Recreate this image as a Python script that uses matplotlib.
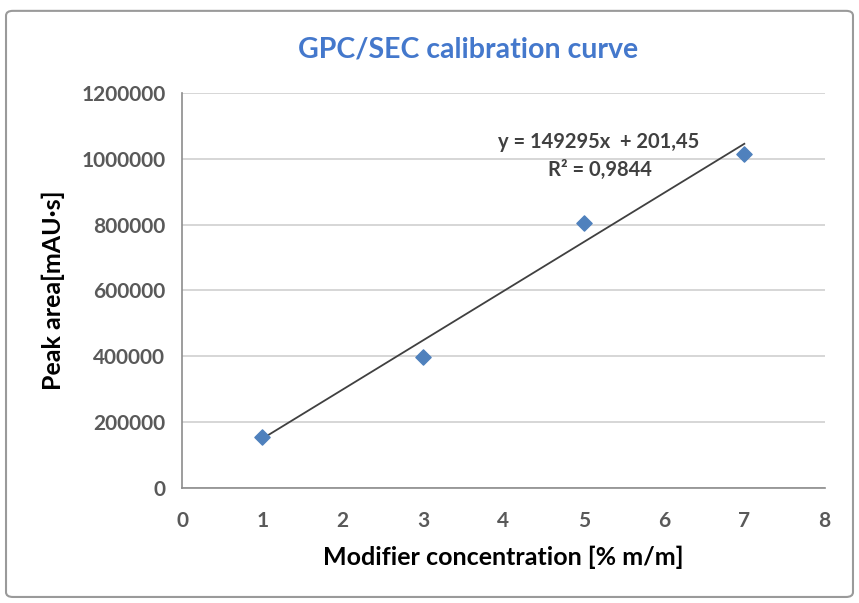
import matplotlib.pyplot as plt
from matplotlib.patches import FancyBboxPatch

# calibration data
conc = [1, 3, 5, 7]
area = [155000, 398000, 805000, 1015000]
slope = 149295
intercept = 201.45
r2 = 0.9844
x_ticks = [0, 1, 2, 3, 4, 5, 6, 7, 8]
y_ticks = [0, 200000, 400000, 600000, 800000, 1000000, 1200000]

plt.rcParams['font.family'] = ['Lato', 'DejaVu Sans']

fig = plt.figure(figsize=(8.59, 6.03), dpi=100)
border = FancyBboxPatch((0.007, 0.01), 0.986, 0.972, boxstyle="round,pad=0,rounding_size=0.008",
                        transform=fig.transFigure, facecolor='white', edgecolor='#9a9a9a',
                        linewidth=1.5, zorder=-1)
fig.patches.append(border)
ax = fig.add_axes([0.212, 0.191, 0.748, 0.655])
ax.patch.set_alpha(0)

ax.scatter(conc, area, marker='D', s=60, color='#4F81BD', zorder=3)
fit_x = [conc[0], conc[-1]]
fit_y = [slope * x + intercept for x in fit_x]
ax.plot(fit_x, fit_y, color='#404040', linewidth=1.3, zorder=2)

ax.set_xlim(0, 8)
ax.set_ylim(0, 1200000)
ax.set_xticks(x_ticks)
ax.set_yticks(y_ticks)
ax.set_xticklabels([str(t) for t in x_ticks], fontsize=15, fontweight='bold', color='#595959')
ax.set_yticklabels([str(t) for t in y_ticks], fontsize=15, fontweight='bold', color='#595959')
ax.tick_params(axis='y', length=0, pad=12)
ax.tick_params(axis='x', length=0, pad=17)
ax.grid(axis='y', color='#d0d0d0', linewidth=1.2)
ax.set_axisbelow(True)
for s in ['top', 'right']:
    ax.spines[s].set_visible(False)
for s in ['left', 'bottom']:
    ax.spines[s].set_color('#8c8c8c')
    ax.spines[s].set_linewidth(1.2)

ax.set_xlabel('Modifier concentration [% m/m]', fontsize=18, fontweight='bold', labelpad=10)
ax.set_ylabel('Peak area[mAU·s]', fontsize=18, fontweight='bold', labelpad=12)
fig.text(0.545, 0.918, 'GPC/SEC calibration curve', ha='center', va='center',
         fontsize=20.5, fontweight='bold', color='#4478CC')

eq = f'y = {slope}x  + {intercept:.2f}'.replace('.', ',')
ax.text(5.18, 1051000, eq, ha='center', va='center', fontsize=14.5, fontweight='bold', color='#404040')
ax.text(5.2, 966000, f'R² = {r2}'.replace('.', ','), ha='center', va='center',
        fontsize=14.5, fontweight='bold', color='#404040')

fig.savefig('out.png', dpi=100)
